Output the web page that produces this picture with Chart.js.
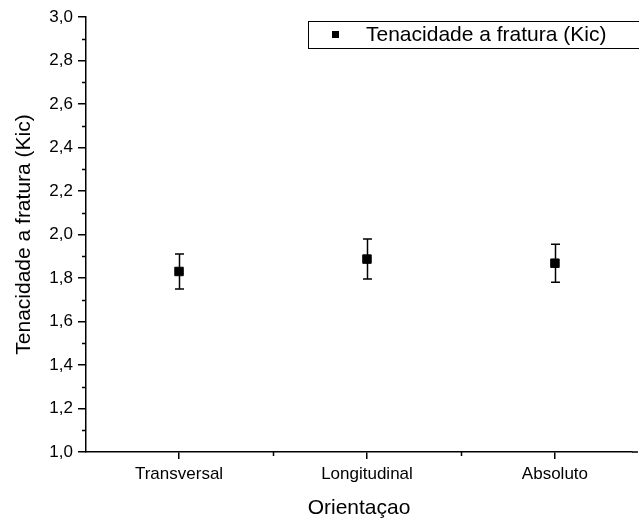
<!DOCTYPE html>
<html>
<head>
<meta charset="utf-8">
<script src="https://cdn.jsdelivr.net/npm/chart.js@4/dist/chart.umd.min.js"></script>
<style>
  html, body { margin: 0; padding: 0; background: #ffffff; }
  #wrap { width: 639px; height: 521px; }
</style>
</head>
<body>
<div id="wrap"><canvas id="kicChart" width="639" height="521"></canvas></div>
<script>
// Tenacidade a fratura por orientacao (media +/- desvio)
const categories = ['Transversal', 'Longitudinal', 'Absoluto'];
const kicMean = [1.83, 1.887, 1.868];
const kicErr = [0.080, 0.092, 0.087];
const yTicks = [1.0, 1.2, 1.4, 1.6, 1.8, 2.0, 2.2, 2.4, 2.6, 2.8, 3.0];
const yMinorTicks = [1.1, 1.3, 1.5, 1.7, 1.9, 2.1, 2.3, 2.5, 2.7, 2.9];
const xMinorTicks = [1.5, 2.5];

const fontFamily = '"Liberation Sans", Arial, sans-serif';

// error bars drawn under the markers
const errorBars = {
  id: 'errorBars',
  beforeDatasetsDraw(chart) {
    const ctx = chart.ctx;
    const xs = chart.scales.x, ys = chart.scales.y;
    ctx.save();
    ctx.strokeStyle = '#000000';
    kicMean.forEach((m, i) => {
      const px = Math.round(xs.getPixelForValue(i + 1)) + 0.5;
      const top = ys.getPixelForValue(m + kicErr[i]);
      const bot = ys.getPixelForValue(m - kicErr[i]);
      ctx.lineWidth = 1.5;
      ctx.beginPath();
      ctx.moveTo(px, top);
      ctx.lineTo(px, bot);
      ctx.stroke();
      ctx.beginPath();
      ctx.moveTo(px - 4.5, top);
      ctx.lineTo(px + 4.5, top);
      ctx.moveTo(px - 4.5, bot);
      ctx.lineTo(px + 4.5, bot);
      ctx.stroke();
    });
    ctx.restore();
  }
};

// minor ticks, axis run-out to the edge, legend box
const extras = {
  id: 'extras',
  afterDraw(chart) {
    const ctx = chart.ctx;
    const xs = chart.scales.x, ys = chart.scales.y;
    const area = chart.chartArea;
    ctx.save();
    ctx.strokeStyle = '#000000';
    ctx.lineWidth = 1.5;
    ctx.beginPath();
    yMinorTicks.forEach(v => {
      const py = Math.round(ys.getPixelForValue(v)) + 0.5;
      ctx.moveTo(area.left - 4, py);
      ctx.lineTo(area.left, py);
    });
    xMinorTicks.forEach(v => {
      const px = Math.round(xs.getPixelForValue(v)) + 0.5;
      ctx.moveTo(px, area.bottom);
      ctx.lineTo(px, area.bottom + 4);
    });
    ctx.moveTo(area.right, area.bottom);
    ctx.lineTo(chart.width - 1, area.bottom);
    ctx.stroke();

    // legend
    ctx.lineWidth = 1;
    ctx.strokeRect(308.5, 21.5, 340, 27);
    ctx.fillStyle = '#000000';
    ctx.fillRect(332, 31, 7, 7);
    ctx.font = '21px ' + fontFamily;
    ctx.textBaseline = 'middle';
    ctx.textAlign = 'left';
    ctx.fillText(chart.data.datasets[0].label, 366, 35);
    ctx.restore();
  }
};

const ctx = document.getElementById('kicChart').getContext('2d');
new Chart(ctx, {
  type: 'scatter',
  data: {
    datasets: [{
      label: 'Tenacidade a fratura (Kic)',
      data: kicMean.map((m, i) => ({ x: i + 1, y: m })),
      pointStyle: 'rect',
      pointRadius: 6,
      pointHoverRadius: 6,
      backgroundColor: '#000000',
      borderColor: '#000000',
      borderWidth: 1
    }]
  },
  options: {
    responsive: false,
    animation: false,
    events: [],
    layout: { padding: { top: 17, right: 1, left: 0, bottom: 0 } },
    plugins: {
      legend: { display: false },
      tooltip: { enabled: false }
    },
    scales: {
      x: {
        type: 'linear',
        min: 0.505,
        max: 3.41,
        afterBuildTicks: scale => {
          scale.ticks = categories.map((c, i) => ({ value: i + 1 }));
        },
        afterFit: scale => {
          scale.height = 69;
          scale.paddingLeft = 0;
          scale.paddingRight = 0;
        },
        ticks: {
          color: '#000000',
          font: { family: fontFamily, size: 17 },
          padding: 5,
          maxRotation: 0,
          callback: v => categories[v - 1]
        },
        grid: {
          display: true,
          drawOnChartArea: false,
          drawTicks: true,
          tickLength: 7,
          color: '#000000',
          lineWidth: 1.5
        },
        border: { display: true, color: '#000000', width: 1.5 },
        title: {
          display: true,
          text: 'Orientaçao',
          color: '#000000',
          font: { family: fontFamily, size: 21 },
          padding: { top: 5, bottom: 0 }
        }
      },
      y: {
        min: 1,
        max: 3,
        afterBuildTicks: scale => {
          scale.ticks = yTicks.map(v => ({ value: v }));
        },
        afterFit: scale => { scale.width = 86; },
        ticks: {
          color: '#000000',
          font: { family: fontFamily, size: 17 },
          padding: 5,
          callback: v => v.toFixed(1).replace('.', ',')
        },
        grid: {
          display: true,
          drawOnChartArea: false,
          drawTicks: true,
          tickLength: 8,
          color: '#000000',
          lineWidth: 1.5
        },
        border: { display: true, color: '#000000', width: 1.5 },
        title: {
          display: true,
          text: 'Tenacidade a fratura (Kic)',
          color: '#000000',
          font: { family: fontFamily, size: 21 },
          padding: { top: 12, bottom: 0 }
        }
      }
    }
  },
  plugins: [errorBars, extras]
});
</script>
</body>
</html>
